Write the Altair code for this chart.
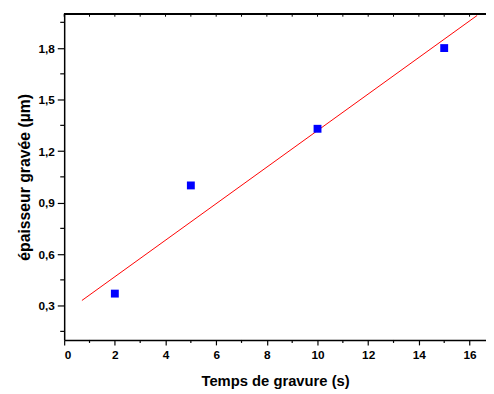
import altair as alt
import pandas as pd

# Measured points
temps = [2, 5, 10, 15]
epaisseur = [0.37, 1.0, 1.33, 1.8]

# Linear fit line (endpoints)
fit_x = [0.7, 16.3]
fit_y = [0.33, 1.99]

x_major = [0, 2, 4, 6, 8, 10, 12, 14, 16]
x_minor = [1, 3, 5, 7, 9, 11, 13, 15]
x_all = list(range(0, 17))
y_major = [0.3, 0.6, 0.9, 1.2, 1.5, 1.8]
y_minor = [0.15, 0.45, 0.75, 1.05, 1.35, 1.65, 1.95]

pts = pd.DataFrame({"t": temps, "e": epaisseur})
fit = pd.DataFrame({"t": fit_x, "e": fit_y})
xmin_df = pd.DataFrame({"t": x_minor})
ymin_df = pd.DataFrame({"e": y_minor})
top_df = pd.DataFrame({"t": x_all})

FONT = "Liberation Sans"
W, H = 428, 331
xscale = alt.Scale(domain=[0, 16.65], nice=False, zero=False)
yscale = alt.Scale(domain=[0.1, 2.0], nice=False, zero=False)

xaxis = alt.Axis(
    title="Temps de gravure (s)",
    values=x_major, format="d",
    tickSize=5, grid=False, labelOverlap=False,
    domainColor="black", domainWidth=1.5,
    tickColor="black", tickWidth=1.2,
    labelFont=FONT, labelFontSize=12, labelFontWeight="bold", labelColor="black",
    labelPadding=5,
    titleFont=FONT, titleFontSize=15, titleFontWeight="bold", titleColor="black",
    titlePadding=13,
)
yaxis = alt.Axis(
    title="épaisseur gravée (µm)",
    values=y_major, format=".1f",
    tickSize=7, grid=False, labelOverlap=False,
    domainColor="black", domainWidth=1.5,
    tickColor="black", tickWidth=1.2,
    labelFont=FONT, labelFontSize=12, labelFontWeight="bold", labelColor="black",
    labelPadding=3,
    titleFont=FONT, titleFontSize=16, titleFontWeight="bold", titleColor="black",
    titlePadding=6,
)

points = alt.Chart(pts).mark_square(size=64, color="#0000FF", opacity=1).encode(
    x=alt.X("t:Q", scale=xscale, axis=xaxis),
    y=alt.Y("e:Q", scale=yscale, axis=yaxis),
)

line = alt.Chart(fit).mark_line(color="#FF0000", strokeWidth=1, clip=True).encode(
    x=alt.X("t:Q", scale=xscale),
    y=alt.Y("e:Q", scale=yscale),
)

# minor ticks
x_minor_ticks = alt.Chart(xmin_df).mark_rule(color="black", strokeWidth=1.2).encode(
    x=alt.X("t:Q", scale=xscale), y=alt.value(H), y2=alt.value(H + 3)
)
y_minor_ticks = alt.Chart(ymin_df).mark_rule(color="black", strokeWidth=1.2).encode(
    y=alt.Y("e:Q", scale=yscale), x=alt.value(-4), x2=alt.value(0)
)

# top frame line with inward ticks
top_line = alt.Chart(top_df).mark_rule(color="black", strokeWidth=1.5).encode(
    x=alt.value(0), x2=alt.value(W), y=alt.value(0)
)
top_tk = alt.Chart(top_df).mark_rule(color="black", strokeWidth=1).encode(
    x=alt.X("t:Q", scale=xscale), y=alt.value(0), y2=alt.value(3)
)

chart = alt.layer(line, points, x_minor_ticks, y_minor_ticks, top_line, top_tk).properties(
    width=W, height=H,
    autosize=alt.AutoSizeParams(type="none"),
    padding={"left": 57, "top": 3, "right": 0, "bottom": 52},
).configure_view(stroke=None).configure(
    background="white",
    locale=alt.Locale(number=alt.NumberLocale(
        decimal=",", thousands=" ", grouping=[3], currency=["", ""]
    )),
)

chart.save("out.html", embed_options={"renderer": "svg", "actions": False})
